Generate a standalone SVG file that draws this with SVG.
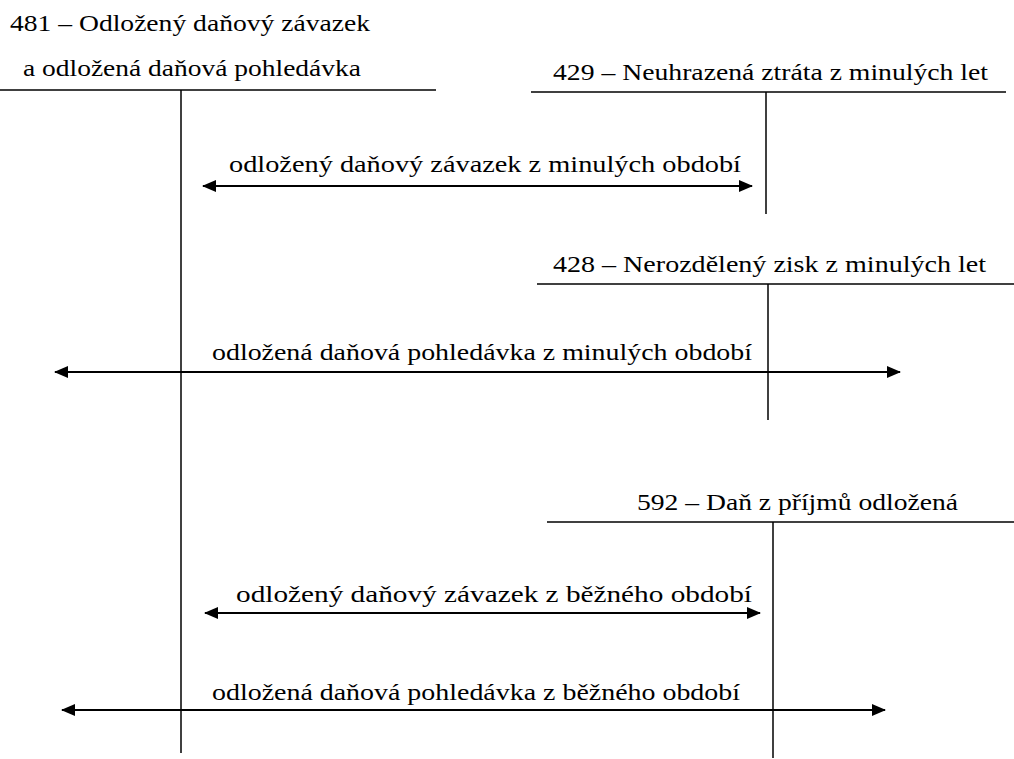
<svg xmlns="http://www.w3.org/2000/svg" width="1014" height="759" viewBox="0 0 1014 759" font-family="Liberation Serif, serif" font-size="23">
<style>
text{fill:#000}
.ln{stroke:#000;stroke-width:1.5;fill:none}
.ar{stroke:#000;stroke-width:2;fill:none;marker-start:url(#ah);marker-end:url(#ah)}
</style>
<defs>
<marker id="ah" viewBox="0 0 14 12" refX="13" refY="6" markerWidth="14" markerHeight="12" markerUnits="userSpaceOnUse" orient="auto-start-reverse">
<path d="M0,0 L14,6 L0,12 Z" fill="#000"/>
</marker>
</defs>
<rect width="1014" height="759" fill="#fff"/>
<g id="acc481">
<text x="10" y="31" textLength="360" lengthAdjust="spacingAndGlyphs">481 – Odložený daňový závazek</text>
<text x="23" y="76" textLength="338" lengthAdjust="spacingAndGlyphs">a odložená daňová pohledávka</text>
<line class="ln" x1="0" y1="90" x2="436" y2="90"/>
<line class="ln" x1="181" y1="90" x2="181" y2="753"/>
</g>
<g id="acc429">
<text x="553" y="80" textLength="435" lengthAdjust="spacingAndGlyphs">429 – Neuhrazená ztráta z minulých let</text>
<line class="ln" x1="531" y1="92" x2="1006" y2="92"/>
<line class="ln" x1="766" y1="92" x2="766" y2="214"/>
</g>
<g id="acc428">
<text x="553" y="272" textLength="433" lengthAdjust="spacingAndGlyphs">428 – Nerozdělený zisk z minulých let</text>
<line class="ln" x1="537" y1="284" x2="1014" y2="284"/>
<line class="ln" x1="768" y1="284" x2="768" y2="420"/>
</g>
<g id="acc592">
<text x="637" y="510" textLength="321" lengthAdjust="spacingAndGlyphs">592 – Daň z příjmů odložená</text>
<line class="ln" x1="547" y1="522" x2="1014" y2="522"/>
<line class="ln" x1="773" y1="522" x2="773" y2="758"/>
</g>
<g id="connectors">
<line class="ar" x1="203" y1="186" x2="752" y2="186"/>
<text x="229" y="172" textLength="512" lengthAdjust="spacingAndGlyphs">odložený daňový závazek z minulých období</text>
<line class="ar" x1="55" y1="372" x2="900" y2="372"/>
<text x="212" y="360" textLength="540" lengthAdjust="spacingAndGlyphs">odložená daňová pohledávka z minulých období</text>
<line class="ar" x1="205" y1="613" x2="760" y2="613"/>
<text x="236" y="602" textLength="516" lengthAdjust="spacingAndGlyphs">odložený daňový závazek z běžného období</text>
<line class="ar" x1="62" y1="710" x2="885" y2="710"/>
<text x="212" y="700" textLength="528" lengthAdjust="spacingAndGlyphs">odložená daňová pohledávka z běžného období</text>
</g>
</svg>
